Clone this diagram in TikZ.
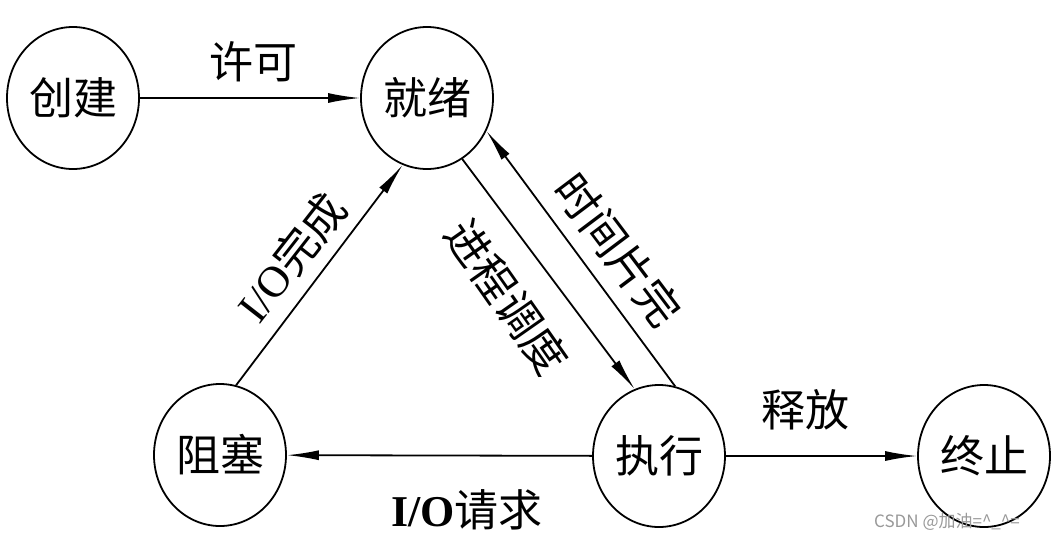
\documentclass[tikz,border=0pt]{standalone}
\usepackage{fontspec}
\newfontfamily\cjk{Noto Sans CJK SC}
\newfontfamily\lat{Liberation Serif}
\usetikzlibrary{shapes.geometric,arrows.meta}
\begin{document}
\begin{tikzpicture}[x=1pt,y=-1pt,
 state/.style={ellipse,draw,line width=1.8pt,minimum width=132pt,minimum height=142pt,inner sep=0pt,font=\cjk\fontsize{44}{48}\selectfont},
 lbl/.style={font=\cjk\fontsize{44}{48}\selectfont,inner sep=0pt},
 arr/.style={line width=1.8pt,-{Latex[length=32pt,width=10pt]}}]
\useasboundingbox[fill=white] (0,0) rectangle (1060,539);
\node[state] (cj) at (73,98) {创建};
\node[state] (jx) at (427,98) {就绪};
\node[state] (zs) at (220,455) {阻塞};
\node[state] (zx) at (659,456) {执行};
\node[state] (zz) at (984,456) {终止};
\draw[arr] (cj) -- (jx);
\draw[arr] (zx) -- (zs);
\draw[arr] (zx) -- (zz);
\draw[arr] (zs.77) -- (jx.250);
\draw[arr] (jx.-60) -- (zx.110);
\draw[arr] (zx.77) -- (jx.-29);
\node[lbl] (l1) at (253,62) {许可};
\node[lbl] (l2) at (805,410) {释放};
\node[lbl] (l3) at (467,510) {{\lat\bfseries I/O}请求};
\node[lbl,rotate=52] (l4) at (291,257) {{\lat I/O}完成};
\node[lbl,rotate=-55] (l5) at (507,297) {进程调度};
\node[lbl,rotate=-53] (l6) at (618,250) {时间片完};
\node[anchor=west,inner sep=0pt,text=black!40,font=\cjk\fontsize{17}{19}\selectfont] (wm) at (874,522) {CSDN @加油=\^{}\_\^{}=};
\end{tikzpicture}
\end{document}
